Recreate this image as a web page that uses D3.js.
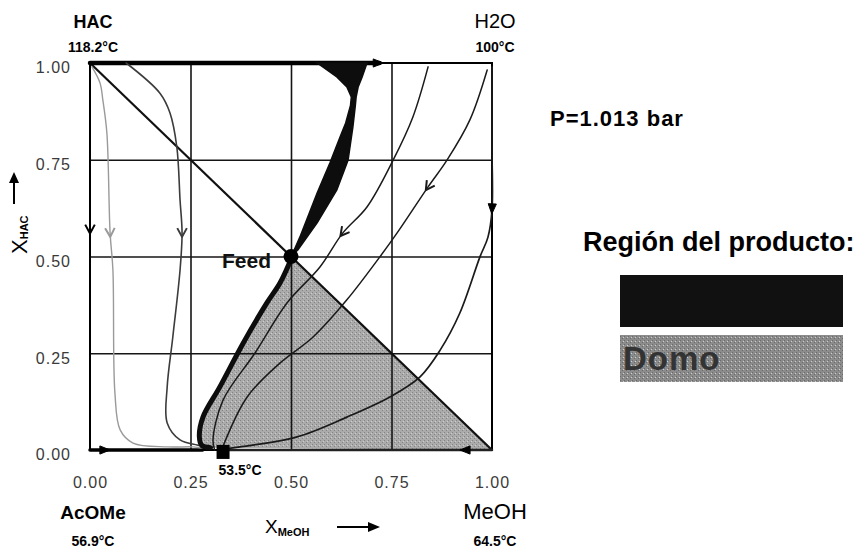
<!DOCTYPE html>
<html>
<head>
<meta charset="utf-8">
<script src="https://cdn.jsdelivr.net/npm/d3@7/dist/d3.min.js"></script>
<style>
  body { margin: 0; background: #fff; }
  svg { display: block; font-family: Arial, 'Liberation Sans', sans-serif; }
</style>
</head>
<body>
<svg id="chart" width="866" height="551"></svg>
<script>
// axis ticks
const ticks = [0, 0.25, 0.5, 0.75, 1];
const gridTicks = [0.25, 0.5, 0.75];

// feed and the low boiling azeotrope (x_MeOH, x_HAC)
const feed = [0.5, 0.5];
const azeotrope = [0.331, -0.005];

// residue curves (x_MeOH, x_HAC)
const edgeTop = [[0, 1], [0.72, 1]];
const edgeLeft = [[0, 1], [0, 0.57], [0, 0]];
const edgeBottom = [[0, 0], [0.04, 0], [0.28, 0]];
const edgeBottomRight = [[1, 0], [0.93, 0], [0.34, 0]];
const curveOuter = [[0.005, 0.99], [0.025, 0.948], [0.032, 0.904], [0.042, 0.819], [0.05, 0.561],
  [0.057, 0.465], [0.062, 0.147], [0.075, 0.052], [0.107, 0.018], [0.192, 0.008], [0.256, 0.008], [0.28, 0.005]];
const curveInner = [[0.09, 1], [0.174, 0.922], [0.199, 0.871], [0.216, 0.783], [0.224, 0.646], [0.229, 0.561],
  [0.224, 0.465], [0.206, 0.292], [0.192, 0.163], [0.192, 0.07], [0.224, 0.026], [0.266, 0.013], [0.285, 0.01]];
const curveA = [[0.841, 0.99], [0.803, 0.86], [0.754, 0.749], [0.689, 0.628], [0.629, 0.561], [0.572, 0.473],
  [0.49, 0.38], [0.41, 0.25], [0.331, 0.129], [0.306, 0.026], [0.31, 0]];
const curveB = [[0.988, 0.982], [0.945, 0.853], [0.888, 0.749], [0.841, 0.68], [0.764, 0.561], [0.721, 0.499],
  [0.639, 0.388], [0.555, 0.292], [0.473, 0.225], [0.391, 0.137], [0.331, 0.01]];
const curveRight = [[1, 0.99], [1, 0.78], [1, 0.62], [0.99, 0.55], [0.97, 0.499], [0.92, 0.354], [0.871, 0.258],
  [0.821, 0.189], [0.746, 0.137], [0.639, 0.085], [0.515, 0.034], [0.373, 0.008], [0.336, 0.003]];
const diagonal = [[0, 1], [1, 0]];

// product region: black spindle above the feed and its tail below
const productTop = [[0.565, 1], [0.614, 0.964], [0.639, 0.938], [0.65, 0.912], [0.648, 0.89], [0.636, 0.845],
  [0.622, 0.809], [0.597, 0.742], [0.565, 0.664], [0.522, 0.55], [0.503, 0.505],
  [0.517, 0.517], [0.565, 0.587], [0.614, 0.672], [0.642, 0.749], [0.654, 0.835], [0.66, 0.89],
  [0.662, 0.912], [0.667, 0.938], [0.677, 0.964], [0.689, 1]];
const productTail = [[0.503, 0.5], [0.473, 0.432], [0.44, 0.38], [0.381, 0.276], [0.323, 0.163],
  [0.281, 0.085], [0.272, 0.035], [0.278, 0.012], [0.3, 0.006]];

// corner labels
const corners = [
  { name: 'HAC', temp: '118.2°C', at: [0, 1], top: true, bold: true },
  { name: 'H2O', temp: '100°C', at: [1, 1], top: true, bold: false },
  { name: 'AcOMe', temp: '56.9°C', at: [0, 0], top: false, bold: true },
  { name: 'MeOH', temp: '64.5°C', at: [1, 0], top: false, bold: false }
];

const svg = d3.select('#chart');

const x = d3.scaleLinear().domain([0, 1]).range([90, 492]);
const y = d3.scaleLinear().domain([0, 1]).range([450, 63]);

const smooth = d3.line()
  .x((d) => x(d[0]))
  .y((d) => y(d[1]))
  .curve(d3.curveCatmullRom.alpha(0.5));

const polygon = d3.line()
  .x((d) => x(d[0]))
  .y((d) => y(d[1]))
  .curve(d3.curveLinearClosed);

// grainy gray fills
const defs = svg.append('defs');
const grain = (id, base, dark) => {
  const p = defs.append('pattern')
      .attr('id', id)
      .attr('width', 4)
      .attr('height', 4)
      .attr('patternUnits', 'userSpaceOnUse');
  p.append('rect').attr('width', 4).attr('height', 4).attr('fill', base);
  p.append('rect').attr('x', 0).attr('y', 0).attr('width', 1).attr('height', 1).attr('fill', dark);
  p.append('rect').attr('x', 2).attr('y', 2).attr('width', 1).attr('height', 1).attr('fill', dark);
  p.append('rect').attr('x', 3).attr('y', 1).attr('width', 1).attr('height', 1).attr('fill', '#cfcfcf');
};
grain('domeFill', '#ababab', '#838383');
grain('legendFill', '#8c8c8c', '#6a6a6a');

// dome region (gray)
const domeRegion = [feed, [1, 0], ...productTail.slice().reverse()];
svg.append('path')
  .attr('d', polygon(domeRegion))
  .attr('fill', 'url(#domeFill)');

// grid
const plotH = y(0) - y(1);
const plotW = x(1) - x(0);

svg.append('g')
    .attr('transform', `translate(0,${y(0)})`)
    .call(d3.axisBottom(x).tickValues(gridTicks).tickSize(-plotH).tickFormat(''))
    .call((g) => g.select('.domain').remove())
    .selectAll('line')
    .attr('stroke', '#151515')
    .attr('stroke-width', 1.6);

svg.append('g')
    .attr('transform', `translate(${x(0)},0)`)
    .call(d3.axisLeft(y).tickValues(gridTicks).tickSize(-plotW).tickFormat(''))
    .call((g) => g.select('.domain').remove())
    .selectAll('line')
    .attr('stroke', '#151515')
    .attr('stroke-width', 1.6);

// frame
svg.append('rect')
  .attr('x', x(0))
  .attr('y', y(1))
  .attr('width', plotW)
  .attr('height', plotH)
  .attr('fill', 'none')
  .attr('stroke', '#000')
  .attr('stroke-width', 2);

// tick labels
svg.append('g')
    .attr('transform', `translate(${x(0)},0)`)
    .call(d3.axisLeft(y).tickValues(ticks).tickSize(0).tickPadding(19).tickFormat(d3.format('.2f')))
    .call((g) => g.select('.domain').remove())
    .selectAll('text')
    .attr('dy', '0.62em')
    .attr('fill', '#3a3a3a')
    .style('font-size', '16px')
    .style('letter-spacing', '1px');

svg.append('g')
    .attr('transform', `translate(0,${y(0)})`)
    .call(d3.axisBottom(x).tickValues(ticks).tickSize(0).tickPadding(27).tickFormat(d3.format('.2f')))
    .call((g) => g.select('.domain').remove())
    .selectAll('text')
    .attr('fill', '#3a3a3a')
    .style('font-size', '16px')
    .style('letter-spacing', '1px');

// diagonal through the feed
svg.append('path')
  .attr('d', smooth(diagonal))
  .attr('fill', 'none')
  .attr('stroke', '#111')
  .attr('stroke-width', 2.2);

// residue curves
const curves = [
  { pts: edgeTop, width: 4.5, color: '#000', arrow: 1, filled: true },
  { pts: edgeLeft, width: 2, color: '#000', arrow: 1, filled: false },
  { pts: edgeBottom, width: 3.5, color: '#000', arrow: 1, filled: true },
  { pts: edgeBottomRight, width: 2.5, color: '#222', arrow: 1, filled: true },
  { pts: curveOuter, width: 1.4, color: '#9a9a9a', arrow: 4, filled: false },
  { pts: curveInner, width: 1.6, color: '#3c3c3c', arrow: 5, filled: false },
  { pts: curveA, width: 1.5, color: '#1a1a1a', arrow: 4, filled: false },
  { pts: curveB, width: 1.5, color: '#1a1a1a', arrow: 3, filled: false },
  { pts: curveRight, width: 1.7, color: '#1a1a1a', arrow: 2, filled: true }
];

svg.append('g')
    .attr('id', 'curves')
  .selectAll('path')
    .data(curves)
  .enter()
  .append('path')
    .attr('d', ({ pts }) => smooth(pts))
    .attr('fill', 'none')
    .attr('stroke', ({ color }) => color)
    .attr('stroke-width', ({ width }) => width)
    .attr('stroke-linecap', 'round');

// arrow heads along the curves
const arrowPath = ({ pts, arrow, filled }) => {
  const a = pts[Math.max(arrow - 1, 0)];
  const b = pts[Math.min(arrow + 1, pts.length - 1)];
  const p = pts[arrow];
  const ang = Math.atan2(y(b[1]) - y(a[1]), x(b[0]) - x(a[0]));
  const len = filled ? 11 : 10;
  const spread = filled ? 0.38 : 0.5;
  const tx = x(p[0]) + Math.cos(ang) * 4;
  const ty = y(p[1]) + Math.sin(ang) * 4;
  const l = [tx - Math.cos(ang - spread) * len, ty - Math.sin(ang - spread) * len];
  const r = [tx - Math.cos(ang + spread) * len, ty - Math.sin(ang + spread) * len];
  return filled
    ? `M${l}L${tx},${ty}L${r}Z`
    : `M${l}L${tx},${ty}L${r}`;
};

svg.append('g')
    .attr('id', 'arrows')
  .selectAll('path')
    .data(curves)
  .enter()
  .append('path')
    .attr('d', arrowPath)
    .attr('fill', ({ filled }) => filled ? '#000' : 'none')
    .attr('stroke', ({ filled, color }) => filled ? '#000' : color)
    .attr('stroke-width', ({ filled }) => filled ? 1 : 2)
    .attr('stroke-linejoin', 'round');

// product region (black)
svg.append('path')
  .attr('d', polygon(productTop))
  .attr('fill', '#0d0d0d')
  .attr('stroke', '#0d0d0d')
  .attr('stroke-width', 1.5);

svg.append('path')
  .attr('d', smooth(productTail))
  .attr('fill', 'none')
  .attr('stroke', '#0d0d0d')
  .attr('stroke-width', 5)
  .attr('stroke-linecap', 'round');

// feed point
svg.append('circle')
  .attr('cx', x(feed[0]))
  .attr('cy', y(feed[1]))
  .attr('r', 7.5)
  .attr('fill', '#000');

svg.append('text')
  .attr('x', x(feed[0]) - 20)
  .attr('y', y(feed[1]) + 11)
  .attr('text-anchor', 'end')
  .attr('font-weight', 'bold')
  .attr('font-size', 21)
  .attr('fill', '#111')
  .text('Feed');

// azeotrope marker
svg.append('rect')
  .attr('x', x(azeotrope[0]) - 6.5)
  .attr('y', y(azeotrope[1]) - 7)
  .attr('width', 13)
  .attr('height', 14)
  .attr('fill', '#000');

svg.append('text')
  .attr('x', x(azeotrope[0]) + 17)
  .attr('y', 475)
  .attr('text-anchor', 'middle')
  .attr('font-weight', 'bold')
  .attr('font-size', 14)
  .text('53.5°C');

// corner names and boiling points
const cornerG = svg.append('g')
    .attr('id', 'corners')
  .selectAll('g')
    .data(corners)
  .enter()
  .append('g')
    .attr('transform', ({ at }) => `translate(${x(at[0]) + 3},0)`);

cornerG.append('text')
  .attr('y', ({ top }) => top ? 28 : 519)
  .attr('text-anchor', 'middle')
  .attr('font-weight', ({ bold }) => bold ? 'bold' : 'normal')
  .attr('font-size', ({ top, bold }) => top ? (bold ? 18 : 20) : (bold ? 19 : 22))
  .text(({ name }) => name);

cornerG.append('text')
  .attr('y', ({ top }) => top ? 52 : 546)
  .attr('text-anchor', 'middle')
  .attr('font-weight', 'bold')
  .attr('font-size', 14)
  .text(({ temp }) => temp);

// axis titles
const xTitle = svg.append('text')
  .attr('x', 265)
  .attr('y', 533)
  .attr('font-size', 19);
xTitle.append('tspan').text('X');
xTitle.append('tspan')
  .attr('dy', 3)
  .attr('font-size', 11)
  .attr('font-weight', 'bold')
  .text('MeOH');

svg.append('line')
  .attr('x1', 337)
  .attr('x2', 370)
  .attr('y1', 527)
  .attr('y2', 527)
  .attr('stroke', '#000')
  .attr('stroke-width', 2);
svg.append('path')
  .attr('d', 'M368,522L380,527L368,532Z')
  .attr('fill', '#000');

const yTitle = svg.append('text')
  .attr('transform', 'translate(27,254) rotate(-90)')
  .attr('font-size', 22);
yTitle.append('tspan').text('X');
yTitle.append('tspan')
  .attr('dy', 1)
  .attr('font-size', 11)
  .attr('font-weight', 'bold')
  .text('HAC');

svg.append('line')
  .attr('x1', 14)
  .attr('x2', 14)
  .attr('y1', 204)
  .attr('y2', 181)
  .attr('stroke', '#000')
  .attr('stroke-width', 2);
svg.append('path')
  .attr('d', 'M9,183L14,172L19,183Z')
  .attr('fill', '#000');

// pressure note
svg.append('text')
  .attr('x', 550)
  .attr('y', 126)
  .attr('font-weight', 'bold')
  .attr('font-size', 22)
  .attr('letter-spacing', 1)
  .text('P=1.013 bar');

// legend
svg.append('text')
  .attr('x', 583)
  .attr('y', 251)
  .attr('font-weight', 'bold')
  .attr('font-size', 27)
  .text('Región del producto:');

svg.append('rect')
  .attr('x', 620)
  .attr('y', 275)
  .attr('width', 223)
  .attr('height', 52)
  .attr('fill', '#111');

svg.append('rect')
  .attr('x', 620)
  .attr('y', 335)
  .attr('width', 223)
  .attr('height', 47)
  .attr('fill', 'url(#legendFill)');

svg.append('text')
  .attr('x', 623)
  .attr('y', 370)
  .attr('font-weight', 'bold')
  .attr('font-size', 33)
  .attr('letter-spacing', 1)
  .attr('fill', '#333')
  .text('Domo');
</script>
</body>
</html>
